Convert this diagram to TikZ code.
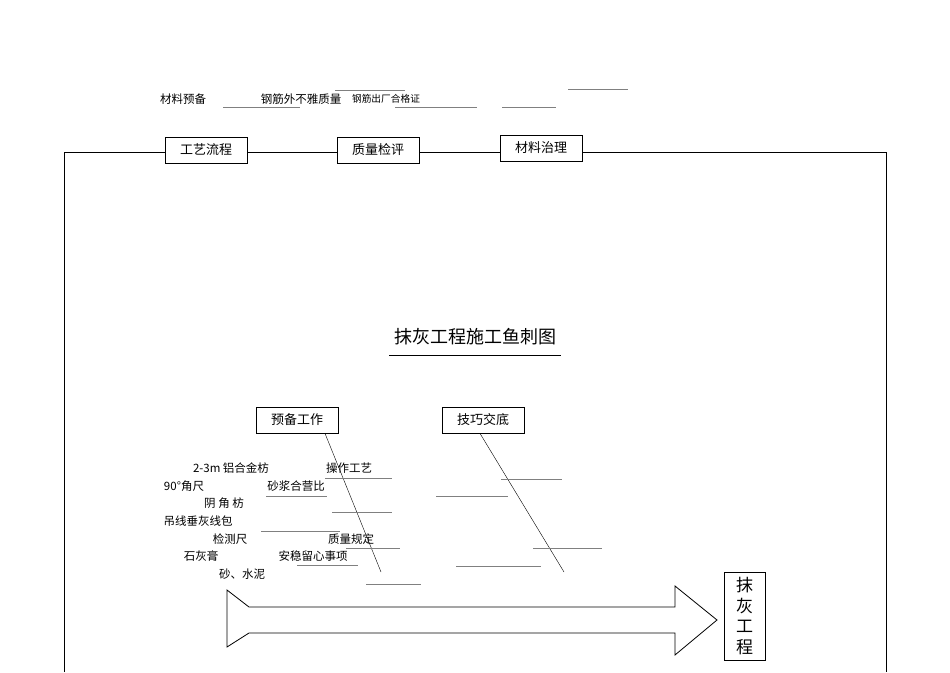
\documentclass[tikz,border=0pt]{standalone}
\usepackage{fontspec}
\setmainfont{Liberation Serif}
\newfontfamily\cjk{Noto Sans CJK SC}
\begin{document}
\begin{tikzpicture}[x=1pt,y=-1pt,
  lbl/.style={font=\cjk\fontsize{11.5}{12}\selectfont,inner sep=0pt},
  bx/.style={draw,thick,font=\cjk\fontsize{13}{14}\selectfont,minimum width=82pt,minimum height=26pt,inner sep=0pt},
  thin/.style={draw=gray,line width=0.4pt}]
\useasboundingbox (0,0) rectangle (950,672);
\draw[thick] (64,672) -- (64,152) -- (886,152) -- (886,672);
\node[bx,fill=white] (b1) at (206,150) {工艺流程};
\node[bx,fill=white] (b2) at (378,150) {质量检评};
\node[bx,fill=white] (b3) at (541,148) {材料治理};
\node[font=\cjk\fontsize{18}{20}\selectfont] (t) at (475,337) {抹灰工程施工鱼刺图};
\draw (389,355) -- (561,355);
\node[bx] (p1) at (297,420) {预备工作};
\node[bx] (p2) at (483,420) {技巧交底};
\coordinate (e1) at (381,572); \coordinate (e2) at (564,572);
\draw (p1.south) ++(28,0) coordinate (s1) -- (e1);
\draw (p2.south) ++(-3,0) coordinate (s2) -- (e2);
\draw[thick] (227,590) -- (249,607) -- (675,607) -- (675,586) -- (717,620) -- (675,655) -- (675,633) -- (249,633) -- (227,647) -- cycle;
\node[draw,thick,font=\cjk\fontsize{17}{20.5}\selectfont,minimum width=41pt,minimum height=88pt,align=center,inner sep=0pt] (m) at (744.5,616) {抹\\灰\\工\\程};
\node[lbl] (a1) at (183,99) {材料预备};
\node[lbl] (a2) at (301,99) {钢筋外不雅质量};
\node[lbl,font=\cjk\fontsize{9.7}{10}\selectfont] (a3) at (386,99) {钢筋出厂合格证};
\foreach \a/\b/\y in {223/300/107,335/405/90,395/477/107,502/556/107,568/628/89,
 325/392/478,266/327/496,332/392/512,261/340/531,346/400/548,297/358/565,366/421/584,
 501/562/479,436/508/496,533/602/548,456/541/566}
  \draw[thin] (\a,\y) -- (\b,\y);
\node[lbl] (c1) at (231,468) {2-3m 铝合金枋};
\node[lbl] (c2) at (349,468) {操作工艺};
\node[lbl] (c3) at (184,486) {90°角尺};
\node[lbl] (c4) at (296,486) {砂浆合营比};
\node[lbl] (c5) at (224,503) {阴\ 角\ 枋};
\node[lbl] (c6) at (198,521) {吊线垂灰线包};
\node[lbl] (c7) at (230,539) {检测尺};
\node[lbl] (c8) at (351,539) {质量规定};
\node[lbl] (c9) at (201,556) {石灰膏};
\node[lbl] (c10) at (313,556) {安稳留心事项};
\node[lbl] (c11) at (242,574) {砂、水泥};
\end{tikzpicture}
\end{document}
